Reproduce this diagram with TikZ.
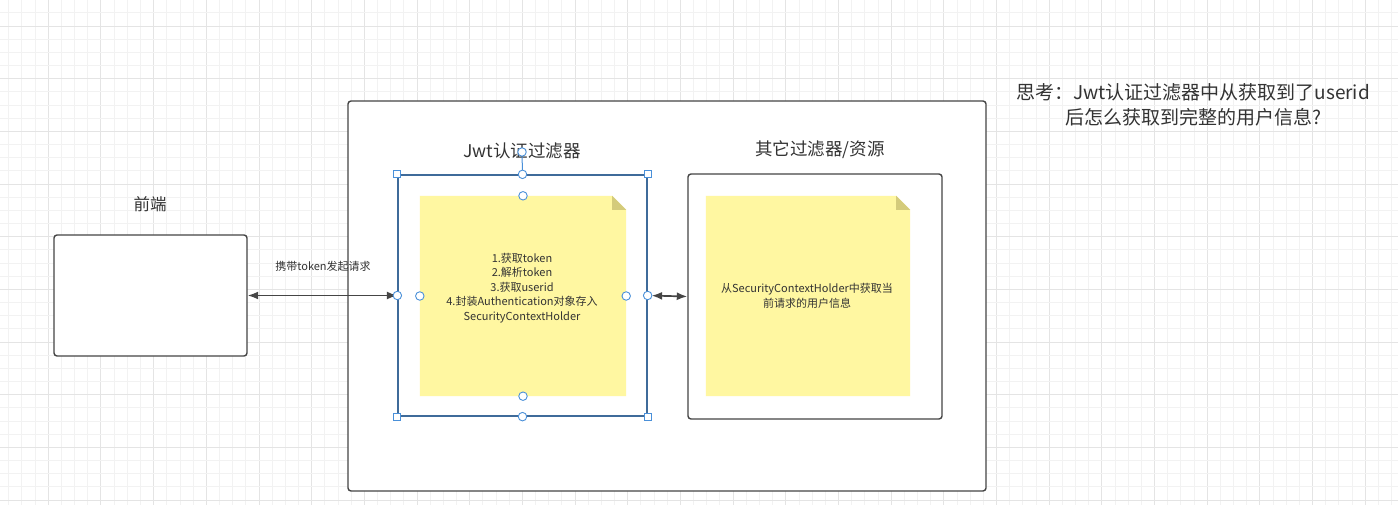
\documentclass[tikz,border=0pt]{standalone}
\usepackage{fontspec}
\setmainfont{Noto Sans CJK SC}
\usetikzlibrary{arrows.meta,calc}
\definecolor{gridminor}{HTML}{F2F2F2}
\definecolor{gridmajor}{HTML}{E4E4E4}
\definecolor{boxline}{HTML}{454545}
\definecolor{notefill}{HTML}{FFF7A1}
\definecolor{notefold}{HTML}{D4CB7B}
\definecolor{selblue}{HTML}{3F6B9A}
\definecolor{handleblue}{HTML}{4A90D9}
\definecolor{txt}{HTML}{333333}
\tikzset{
  plainbox/.style={draw=boxline,line width=1.4pt,fill=white,rounded corners=3pt,inner sep=0pt},
  selbox/.style={draw=selblue,line width=1.3pt,fill=white,inner sep=0pt},
  notebox/.style={inner sep=0pt,align=center,text=txt,font=\fontsize{11}{14.6}\selectfont},
  title/.style={text=txt,font=\fontsize{17.5}{22}\selectfont,inner sep=0pt},
  smalltxt/.style={text=txt,font=\fontsize{11}{14}\selectfont,inner sep=0pt},
  thought/.style={text=txt,font=\fontsize{19}{25}\selectfont,align=center,inner sep=0pt},
  tip/.style={Latex[length=10.5pt,width=8pt]},
  link/.style={draw=boxline,line width=1.7pt,{Latex[length=10.5pt,width=8pt]}-{Latex[length=10.5pt,width=8pt]}},
  sqhandle/.style={draw=handleblue,fill=white,line width=0.9pt,minimum size=7pt,inner sep=0pt},
  cihandle/.style={draw=handleblue,fill=white,line width=0.9pt,circle,minimum size=8.5pt,inner sep=0pt}
}
\begin{document}
\begin{tikzpicture}[x=1pt,y=-1pt]
\useasboundingbox (0,0) rectangle (1398,505);
\fill[white] (0,0) rectangle (1398,505);
% background grid
\foreach \k in {0,...,106}{
  \pgfmathsetmacro{\gx}{8.8+13.17*\k}
  \pgfmathtruncatemacro{\m}{mod(\k,4)}
  \ifnum\m=3 \draw[gridmajor,line width=1pt] (\gx,0) -- (\gx,505);
  \else \draw[gridminor,line width=1pt] (\gx,0) -- (\gx,505); \fi
}
\foreach \k in {1,...,38}{
  \pgfmathsetmacro{\gy}{13.17*\k-0.3}
  \pgfmathtruncatemacro{\m}{mod(\k,4)}
  \ifnum\m=2 \draw[gridmajor,line width=1pt] (0,\gy) -- (1398,\gy);
  \else \draw[gridminor,line width=1pt] (0,\gy) -- (1398,\gy); \fi
}
% outer container
\node[plainbox,minimum width=638pt,minimum height=390pt] (outer) at (667,296) {};
% front end
\node[plainbox,minimum width=193pt,minimum height=121pt] (qd) at (150.5,295.5) {};
\node[title,font=\fontsize{16.5}{20}\selectfont] (qdt) at (150,204) {前端};
% jwt filter box (selected)
\node[selbox,minimum width=249pt,minimum height=241pt] (jwt) at (522.5,295.5) {};
\node[title] (jwtt) at (522,151) {Jwt认证过滤器};
% other filters box
\node[plainbox,minimum width=254pt,minimum height=245pt] (oth) at (815,296.5) {};
\node[title] (otht) at (820,150) {其它过滤器/资源};
% note 1
\node[notebox,minimum width=206pt,minimum height=200pt] (n1) at (523,296) {};
\fill[notefill] (n1.south west) -- (n1.south east) -- ($(n1.north east)+(0,14)$) -- ($(n1.north east)+(-14,0)$) -- (n1.north west) -- cycle;
\fill[notefold] ($(n1.north east)+(-14,0)$) -- ($(n1.north east)+(0,14)$) -- ($(n1.north east)+(-14,14)$) -- cycle;
\node[notebox] (n1t) at (522,288) {1.获取token\\2.解析token\\3.获取userid\\4.封装Authentication对象存入\\SecurityContextHolder};
% note 2
\node[notebox,minimum width=204pt,minimum height=200pt] (n2) at (808,296) {};
\fill[notefill] (n2.south west) -- (n2.south east) -- ($(n2.north east)+(0,14)$) -- ($(n2.north east)+(-14,0)$) -- (n2.north west) -- cycle;
\fill[notefold] ($(n2.north east)+(-14,0)$) -- ($(n2.north east)+(0,14)$) -- ($(n2.north east)+(-14,14)$) -- cycle;
\node[notebox] (n2t) at (807,296) {从SecurityContextHolder中获取当\\前请求的用户信息};
% connectors
\draw[link] (qd.east) -- (jwt.west);
\node[smalltxt] (reqlbl) at (323,266) {携带token发起请求};
\draw[link,shorten <=4pt] (jwt.east) -- (oth.west);
% selection handles
\node[cihandle] (rot) at (522,152) {};
\draw[handleblue,line width=1pt] (rot) -- (jwt.north);
\foreach \a/\nm in {north west/hnw,north east/hne,south west/hsw,south east/hse}{
  \node[sqhandle] (\nm) at (jwt.\a) {};
}
\foreach \a/\nm in {north/hn,south/hs,west/hw,east/he}{
  \node[cihandle] (\nm) at (jwt.\a) {};
}
\foreach \a/\nm in {north/cn,south/cs,west/cw,east/ce}{
  \node[cihandle] (\nm) at (n1.\a) {};
}
% thought text
\node[thought] (think) at (1193,104.5) {思考：Jwt认证过滤器中从获取到了userid\\后怎么获取到完整的用户信息?};
\end{tikzpicture}
\end{document}
